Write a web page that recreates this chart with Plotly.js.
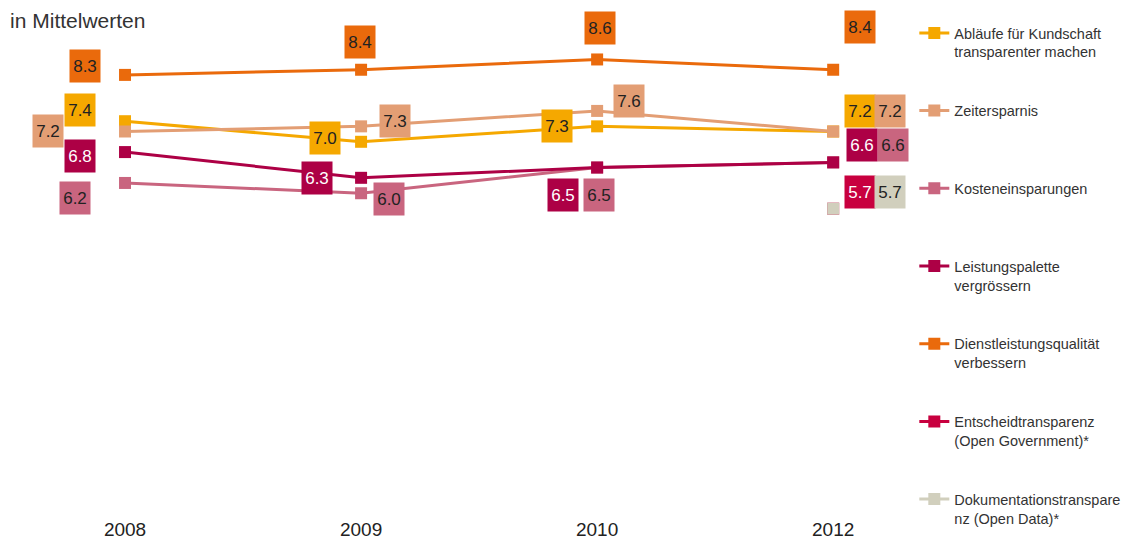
<!DOCTYPE html>
<html>
<head>
<meta charset="utf-8">
<script src="https://cdn.plot.ly/plotly-3.0.1.min.js"></script>
<style>html,body{margin:0;padding:0;background:#fff}#chart{width:1121px;height:539px}</style>
</head>
<body>
<div id="chart"></div>
<script>
// ---- data ----
const years = ["2008", "2009", "2010", "2012"];
const seriesNames = [
  "Abläufe für Kundschaft<br>transparenter machen",
  "Zeitersparnis<br> ",
  "Kosteneinsparungen<br> ",
  "Leistungspalette<br>vergrössern",
  "Dienstleistungsqualität<br>verbessern",
  "Entscheidtransparenz<br>(Open Government)*",
  "Dokumentationstranspare<br>nz (Open Data)*"
];
const ablaeufe   = [7.4, 7.0, 7.3, 7.2];
const zeit       = [7.2, 7.3, 7.6, 7.2];
const kosten     = [6.2, 6.0, 6.5, 6.6];
const leistung   = [6.8, 6.3, 6.5, 6.6];
const dienst     = [8.3, 8.4, 8.6, 8.4];
const entscheid  = [null, null, null, 5.7];
const doku       = [null, null, null, 5.7];

// ---- styling ----
const colors = ["#F5A800", "#E39E74", "#C9657F", "#AD0045", "#EA6A0C", "#C8003F", "#D1CFBD"];
const textColors = ["#222", "#222", "#222", "#fff", "#222", "#fff", "#222"];
const values = [ablaeufe, zeit, kosten, leistung, dienst, entscheid, doku];
// label box offsets (px) relative to each point: [dx, dy(up)]
const offsets = [
  [[-45, 11], [-36, 4], [-40, 0], [27, 21]],
  [[-77, 1], [34, 5], [32, 10], [57, 21]],
  [[-50, -15], [28, -6], [2, -27], [60, 17]],
  [[-45, -4], [-44, 0], [-34, -27], [29, 17]],
  [[-40, 9], [-1, 28], [3, 31], [27, 43]],
  [null, null, null, [27, 17]],
  [null, null, null, [57, 17]]
];
const baseFont = "Liberation Sans, Arial, sans-serif";

const traces = values.map((v, i) => ({
  type: "scatter",
  mode: "lines+markers",
  x: years,
  y: v,
  name: seriesNames[i],
  legendgroup: "g" + i,
  line: {color: colors[i], width: 3},
  marker: {symbol: "square", size: 12, color: colors[i]},
  hoverinfo: "x+y"
}));

const annotations = [];
values.forEach((v, i) => {
  v.forEach((val, j) => {
    if (val === null) return;
    const o = offsets[i][j];
    annotations.push({
      x: j, y: val, xref: "x", yref: "y",
      text: val.toFixed(1),
      showarrow: false,
      xshift: o[0], yshift: o[1],
      width: 30, height: 32, borderpad: 0,
      bgcolor: colors[i],
      font: {family: baseFont, size: 17, color: textColors[i]},
      align: "center", valign: "middle"
    });
  });
});

const layout = {
  width: 1121, height: 539,
  margin: {l: 7, r: 217, t: 8, b: 37, autoexpand: false},
  paper_bgcolor: "#fff", plot_bgcolor: "#fff",
  font: {family: baseFont, color: "#333"},
  title: {
    text: "in Mittelwerten",
    x: 0.009, xref: "container", xanchor: "left",
    y: 0.962, yref: "container", yanchor: "middle",
    pad: {l: 0, r: 0, t: 0, b: 0},
    automargin: false,
    font: {family: baseFont, size: 21, color: "#333"}
  },
  xaxis: {
    type: "category",
    categoryorder: "array", categoryarray: years,
    range: [-0.5, 3.3],
    showgrid: false, zeroline: false, showline: false,
    ticks: "",
    ticklabelstandoff: 14,
    automargin: false,
    tickfont: {family: "Liberation Sans Narrow, Arial Narrow, sans-serif", size: 19, color: "#222"}
  },
  yaxis: {
    range: [0, 9.6],
    showgrid: false, zeroline: false, showline: false,
    showticklabels: false, ticks: "", automargin: false
  },
  showlegend: true,
  legend: {
    x: 1.0115, xanchor: "left", xref: "paper",
    y: 0.9685, yanchor: "top", yref: "container",
    maxheight: 539,
    traceorder: "grouped",
    tracegroupgap: 37,
    valign: "top",
    font: {family: baseFont, size: 14.5, color: "#333"},
    bgcolor: "rgba(0,0,0,0)",
    itemclick: false, itemdoubleclick: false
  },
  annotations: annotations
};

Plotly.newPlot("chart", traces, layout, {displayModeBar: false, staticPlot: true});
</script>
</body>
</html>
